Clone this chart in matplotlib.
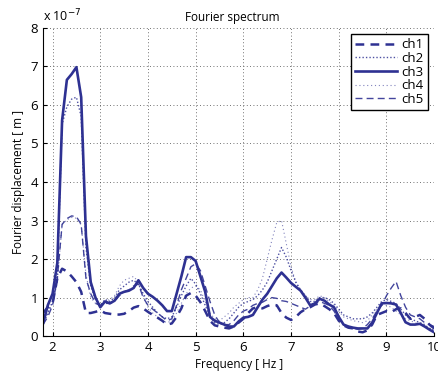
import numpy as np
import matplotlib
matplotlib.use("Agg")
import matplotlib.pyplot as plt

# frequency axis [Hz], 0.1 Hz steps
freq = np.round(np.arange(1.8, 10.0001, 0.1), 1)

# Fourier displacement, in units of 1e-7 m
ch1 = [0.6, 0.75, 0.85, 1.5, 1.75, 1.68, 1.55, 1.4, 1.15, 0.6,
       0.6, 0.63, 0.67, 0.6, 0.58, 0.56, 0.56, 0.58, 0.65, 0.74,
       0.78, 0.72, 0.63, 0.55, 0.48, 0.4, 0.3, 0.33, 0.5, 0.72,
       1.05, 1.12, 1.05, 0.88, 0.65, 0.4, 0.28, 0.25, 0.22, 0.2,
       0.25, 0.35, 0.45, 0.6, 0.72, 0.75, 0.72, 0.78, 0.82, 0.8,
       0.6, 0.48, 0.42, 0.5, 0.62, 0.7, 0.75, 0.82, 0.85, 0.78,
       0.7, 0.6, 0.4, 0.28, 0.22, 0.2, 0.12, 0.1, 0.15, 0.3,
       0.55, 0.6, 0.65, 0.62, 0.7, 0.72, 0.6, 0.45, 0.5, 0.55,
       0.45, 0.3, 0.2]
ch2 = [0.3, 0.6, 0.9, 1.6, 5.5, 5.95, 6.15, 6.2, 5.7, 2.3,
       1.3, 0.95, 0.8, 0.95, 0.9, 1.0, 1.2, 1.3, 1.4, 1.45,
       1.35, 1.1, 0.9, 0.75, 0.6, 0.5, 0.45, 0.5, 0.75, 1.05,
       1.3, 1.5, 1.35, 1.1, 0.8, 0.5, 0.35, 0.3, 0.35, 0.45,
       0.6, 0.75, 0.85, 0.9, 0.95, 1.05, 1.2, 1.4, 1.7, 2.0,
       2.3, 2.05, 1.7, 1.4, 1.2, 1.05, 0.9, 0.9, 1.0, 1.0,
       0.95, 0.85, 0.7, 0.55, 0.5, 0.45, 0.45, 0.45, 0.5, 0.6,
       0.75, 0.9, 0.95, 0.9, 0.85, 0.7, 0.55, 0.45, 0.4, 0.35,
       0.3, 0.2, 0.15]
ch3 = [0.33, 0.8, 1.1, 1.9, 5.6, 6.65, 6.8, 6.98, 6.2, 2.6,
       1.4, 1.0, 0.75, 0.9, 0.85, 0.92, 1.1, 1.15, 1.18, 1.25,
       1.45, 1.25, 1.1, 1.02, 0.92, 0.8, 0.65, 0.65, 1.1, 1.55,
       2.05, 2.05, 1.95, 1.55, 1.15, 0.5, 0.4, 0.35, 0.3, 0.25,
       0.25, 0.38, 0.48, 0.5, 0.55, 0.75, 0.95, 1.1, 1.3, 1.5,
       1.65, 1.52, 1.38, 1.28, 1.18, 1.0, 0.8, 0.85, 0.97, 0.92,
       0.82, 0.75, 0.5, 0.3, 0.25, 0.22, 0.2, 0.2, 0.2, 0.35,
       0.6, 0.85, 0.86, 0.85, 0.82, 0.6, 0.36, 0.3, 0.3, 0.32,
       0.25, 0.17, 0.1]
ch4 = [0.35, 0.6, 0.85, 1.4, 2.9, 3.02, 3.08, 3.06, 2.88, 1.6,
       1.0, 0.85, 0.8, 0.9, 0.95, 1.05, 1.3, 1.45, 1.5, 1.55,
       1.4, 1.05, 0.75, 0.6, 0.5, 0.4, 0.35, 0.4, 0.6, 0.85,
       1.1, 1.25, 1.3, 1.2, 0.9, 0.6, 0.45, 0.4, 0.5, 0.6,
       0.75, 0.85, 0.95, 1.0, 1.0, 1.2, 1.5, 2.0, 2.5, 2.95,
       3.0, 2.4, 1.8, 1.4, 1.2, 1.05, 0.95, 0.95, 1.05, 1.0,
       0.9, 0.8, 0.65, 0.5, 0.45, 0.4, 0.38, 0.35, 0.4, 0.55,
       0.7, 0.8, 0.8, 0.75, 0.65, 0.55, 0.45, 0.4, 0.35, 0.3,
       0.25, 0.2, 0.2]
ch5 = [0.3, 0.5, 0.8, 1.5, 2.9, 3.05, 3.12, 3.1, 2.9, 1.5,
       1.1, 0.85, 0.8, 0.85, 0.85, 0.9, 1.05, 1.15, 1.2, 1.3,
       1.35, 1.0, 0.8, 0.7, 0.6, 0.5, 0.4, 0.45, 0.8, 1.2,
       1.5, 1.8, 1.88, 1.7, 1.3, 0.9, 0.55, 0.35, 0.3, 0.3,
       0.4, 0.55, 0.65, 0.7, 0.8, 0.85, 0.88, 0.95, 1.0, 0.98,
       0.92, 0.9, 0.85, 0.8, 0.75, 0.7, 0.78, 0.85, 0.9, 0.85,
       0.8, 0.65, 0.45, 0.3, 0.25, 0.2, 0.18, 0.2, 0.3, 0.45,
       0.65, 0.8, 1.05, 1.25, 1.42, 1.05, 0.75, 0.55, 0.5, 0.45,
       0.35, 0.3, 0.25]

x_ticks = [2, 3, 4, 5, 6, 7, 8, 9, 10]
y_ticks = [0, 1, 2, 3, 4, 5, 6, 7, 8]

navy = "#2e3192"
plt.rcParams['font.family'] = ['Open Sans', 'DejaVu Sans']

fig = plt.figure(figsize=(4.39, 3.76), dpi=100)
ax = fig.add_axes([0.098, 0.106, 0.891, 0.82])

ax.plot(freq, ch1, color=navy, lw=1.8, ls=(0, (3.5, 2.5)), label='ch1')
ax.plot(freq, ch2, color=navy, lw=1.0, ls=(0, (1, 1.5)), label='ch2', alpha=0.85)
ax.plot(freq, ch3, color=navy, lw=1.9, ls='-', label='ch3')
ax.plot(freq, ch4, color=navy, lw=0.8, ls=(0, (1, 2.5)), label='ch4', alpha=0.6)
ax.plot(freq, ch5, color=navy, lw=1.0, ls=(0, (5, 3)), label='ch5', alpha=0.9)

ax.set_xlim(1.8, 10)
ax.set_ylim(0, 8)
ax.set_xticks(x_ticks)
ax.set_yticks(y_ticks)
ax.tick_params(direction='in', length=3, labelsize=9.5, width=0.8)
ax.grid(True, ls=(0, (1, 3)), color='#444444', lw=0.6)
ax.spines['top'].set_visible(False)
ax.spines['right'].set_visible(False)

ax.set_title('Fourier spectrum', fontsize=8.5, pad=5, x=0.485)
ax.set_xlabel('Frequency [ Hz ]', fontsize=8.5, labelpad=3)
ax.set_ylabel('Fourier displacement [ m ]', fontsize=8.5, labelpad=4)
ax.text(0.0, 1.012, r'x 10$^{-7}$', transform=ax.transAxes, fontsize=9, va='bottom', ha='left')

leg = ax.legend(loc='upper right', bbox_to_anchor=(1.0, 1.0), fontsize=9.5,
                handlelength=3.2, handletextpad=0.3, labelspacing=0.05,
                borderpad=0.3, fancybox=False, framealpha=1)
leg.get_frame().set_edgecolor('black')
leg.get_frame().set_linewidth(1.0)

fig.savefig('out.png', dpi=100)
